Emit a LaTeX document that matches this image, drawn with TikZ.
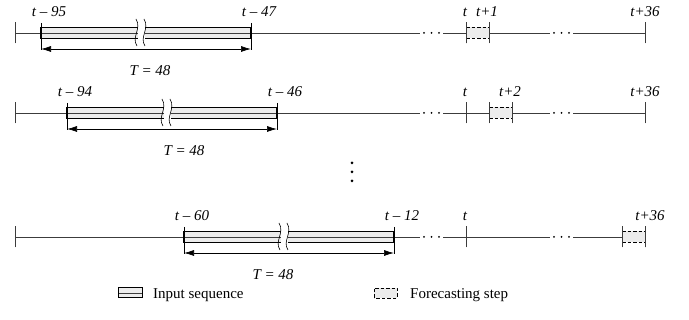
\documentclass[tikz,border=0pt]{standalone}
\usepackage{fontspec}
\setmainfont{Liberation Serif}
\usetikzlibrary{arrows.meta, positioning, calc}
\definecolor{lineGray}{RGB}{60,60,60}
\definecolor{boxFill}{RGB}{236,236,236}

\begin{document}
\begin{tikzpicture}[x=1pt, y=1pt, >={Latex[length=10pt,width=6pt]},
    tline/.style={draw=lineGray, line width=0.7pt},
    inborder/.style={draw=black, line width=1.3pt},
    fcborder/.style={draw=black, line width=0.9pt, dash pattern=on 3.5pt off 2pt},
    brk/.style={draw=black, line width=0.6pt},
    lbl/.style={font=\fontsize{15}{17}\selectfont\itshape, inner sep=0pt, anchor=base},
    txt/.style={font=\fontsize{15}{17}\selectfont, inner sep=0pt, anchor=base west},
    dotmark/.style={circle, fill=black, inner sep=0pt, minimum size=2pt}]
    \useasboundingbox (0,0) rectangle (689,320);

    % one time axis per forecasting step
    \foreach \y/\a/\la/\lb/\tx/\fs/\fl/\flx/\el [count=\i] in {
        287/41/t – 95/t – 47/150/466/t+1/487/t+36,
        207/67/t – 94/t – 46/184/489/t+2/510/t+36,
        83/184/t – 60/t – 12/273/622/t+36/650/{}} {
        \coordinate (L\i) at (15,\y);
        \coordinate (A\i) at (\a,\y);
        \coordinate (K\i) at (\a+100,\y);
        \coordinate (B\i) at (\a+210,\y);
        \coordinate (D\i) at (420,\y);
        \coordinate (E\i) at (443,\y);
        \coordinate (T\i) at (466,\y);
        \coordinate (F\i) at (550,\y);
        \coordinate (G\i) at (573,\y);
        \coordinate (R\i) at (645,\y);
        \coordinate (P\i) at (\fs,\y);
        \coordinate (Q\i) at (\fs+23,\y);

        \draw[tline] (L\i) -- (A\i) (B\i) -- (D\i) (E\i) -- (F\i) (G\i) -- (R\i);
        \foreach \d [count=\j] in {4,11.5,19} {
            \node[dotmark] (dl\i-\j) at ($(D\i)+(\d,0)$) {};
            \node[dotmark] (dr\i-\j) at ($(F\i)+(\d,0)$) {};
        }

        % input sequence with break
        \fill[boxFill] ($(A\i)+(0,-5.5)$) rectangle ($(K\i)+(-3,5.5)$);
        \fill[boxFill] ($(K\i)+(4,-5.5)$) rectangle ($(B\i)+(0,5.5)$);
        \draw[tline] (A\i) -- ($(K\i)+(-3,0)$) ($(K\i)+(4,0)$) -- (B\i);
        \draw[inborder] ($(K\i)+(-3,5.5)$) -| ($(A\i)+(0,-5.5)$) -- ($(K\i)+(-3,-5.5)$);
        \draw[inborder] ($(K\i)+(4,5.5)$) -| ($(B\i)+(0,-5.5)$) -- ($(K\i)+(4,-5.5)$);
        \foreach \s in {-5,3}
            \draw[brk] ($(K\i)+(\s,14)$) .. controls +(6,-10) and +(-6,9) .. ($(K\i)+(\s+1,-13)$);
        \draw[tline, draw=black] ($(A\i)+(0,10)$) -- ($(A\i)+(0,-17)$);
        \draw[tline, draw=black] ($(B\i)+(0,10)$) -- ($(B\i)+(0,-17)$);
        \draw[<->, tline, draw=black] ($(A\i)+(0,-16)$) -- ($(B\i)+(0,-16)$);
        \node[lbl] (len\i) at (\tx,\y-43) {T = 48};

        % forecasting step
        \fill[boxFill] ($(P\i)+(0,-5.5)$) rectangle ($(Q\i)+(0,5.5)$);
        \draw[fcborder] ($(P\i)+(0,5.5)$) -- ($(Q\i)+(0,5.5)$) ($(P\i)+(0,-5.5)$) -- ($(Q\i)+(0,-5.5)$);
        \foreach \c in {L,T,P,Q,R}
            \draw[tline] ($(\c\i)+(0,-10.5)$) -- ($(\c\i)+(0,10.5)$);

        \node[lbl] (la\i) at (\a+8,\y+16) {\la};
        \node[lbl] (lb\i) at (\a+218,\y+16) {\lb};
        \node[lbl] (lt\i) at (465,\y+16) {t};
        \node[lbl] (lf\i) at (\flx,\y+16) {\fl};
        \node[lbl] (le\i) at (645,\y+16) {\el};
    }

    \foreach \v [count=\j] in {157,148,139}
        \node[dotmark, minimum size=3pt] (vd\j) at (352,\v) {};

    % legend
    \fill[boxFill] (118,22) rectangle (142,32);
    \draw[tline] (118,27) -- (142,27);
    \draw[inborder, line width=1pt] (118,22) rectangle (142,32);
    \node[txt] (inleg) at (153,21) {Input sequence};
    \fill[boxFill] (374,22) rectangle (397,32);
    \draw[fcborder] (374,22) rectangle (397,32);
    \node[txt] (fcleg) at (410,21) {Forecasting step};
\end{tikzpicture}
\end{document}
